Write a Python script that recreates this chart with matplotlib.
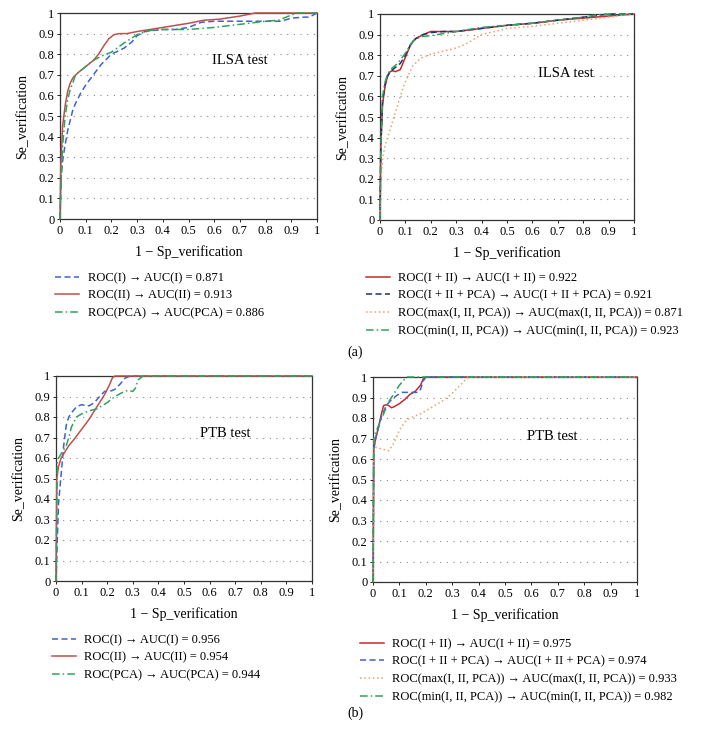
import numpy as np
import matplotlib
matplotlib.use('Agg')
import matplotlib.pyplot as plt

plt.rcParams['font.family'] = ['Liberation Serif', 'DejaVu Serif']

# (a) ILSA test, single classifiers
a1_I_x = [0, 0.005, 0.01, 0.02, 0.03, 0.04, 0.05, 0.06, 0.08, 0.10, 0.13, 0.16, 0.20, 0.25, 0.28, 0.30, 0.33, 0.36, 0.40, 0.45, 0.50, 0.55, 0.60, 0.70, 0.80, 0.86, 0.90, 0.95, 0.97, 1.0]
a1_I_y = [0, 0.22, 0.28, 0.36, 0.43, 0.48, 0.53, 0.56, 0.61, 0.65, 0.70, 0.75, 0.80, 0.83, 0.86, 0.89, 0.91, 0.915, 0.92, 0.92, 0.93, 0.955, 0.96, 0.96, 0.96, 0.96, 0.975, 0.98, 0.98, 1.0]
a1_II_x = [0, 0.003, 0.01, 0.02, 0.03, 0.04, 0.05, 0.07, 0.10, 0.13, 0.15, 0.17, 0.19, 0.21, 0.23, 0.26, 0.30, 0.35, 0.40, 0.50, 0.56, 0.62, 0.70, 0.76, 0.80, 1.0]
a1_II_y = [0, 0.25, 0.45, 0.55, 0.62, 0.66, 0.685, 0.71, 0.74, 0.77, 0.80, 0.84, 0.875, 0.895, 0.90, 0.90, 0.91, 0.92, 0.93, 0.95, 0.965, 0.97, 0.985, 1.0, 1.0, 1.0]
a1_PCA_x = [0, 0.005, 0.01, 0.02, 0.03, 0.04, 0.05, 0.06, 0.08, 0.10, 0.13, 0.16, 0.20, 0.25, 0.30, 0.35, 0.40, 0.50, 0.60, 0.70, 0.80, 0.85, 0.90, 0.92, 1.0]
a1_PCA_y = [0, 0.2, 0.35, 0.5, 0.58, 0.63, 0.66, 0.70, 0.72, 0.74, 0.77, 0.79, 0.81, 0.855, 0.895, 0.915, 0.92, 0.92, 0.93, 0.945, 0.96, 0.965, 0.99, 1.0, 1.0]

# (a) ILSA test, combinations
a2_sum_x = [0, 0.003, 0.01, 0.02, 0.03, 0.04, 0.05, 0.06, 0.08, 0.10, 0.12, 0.14, 0.17, 0.20, 0.25, 0.30, 0.40, 0.50, 0.60, 0.70, 0.80, 0.90, 1.0]
a2_sum_y = [0, 0.35, 0.56, 0.65, 0.70, 0.72, 0.725, 0.72, 0.73, 0.79, 0.85, 0.88, 0.90, 0.915, 0.915, 0.915, 0.93, 0.945, 0.955, 0.97, 0.98, 0.99, 1.0]
a2_all_x = [0, 0.003, 0.01, 0.02, 0.03, 0.04, 0.05, 0.06, 0.08, 0.10, 0.12, 0.14, 0.17, 0.20, 0.25, 0.30, 0.40, 0.50, 0.60, 0.70, 0.80, 0.90, 1.0]
a2_all_y = [0, 0.35, 0.58, 0.66, 0.70, 0.72, 0.73, 0.74, 0.76, 0.80, 0.85, 0.88, 0.90, 0.91, 0.915, 0.915, 0.93, 0.945, 0.955, 0.97, 0.985, 1.0, 1.0]
a2_max_x = [0, 0.005, 0.01, 0.02, 0.03, 0.05, 0.07, 0.09, 0.11, 0.13, 0.16, 0.20, 0.25, 0.30, 0.33, 0.36, 0.40, 0.45, 0.50, 0.60, 0.70, 0.80, 0.90, 1.0]
a2_max_y = [0, 0.2, 0.3, 0.36, 0.40, 0.48, 0.56, 0.64, 0.70, 0.75, 0.785, 0.805, 0.82, 0.835, 0.85, 0.87, 0.90, 0.915, 0.93, 0.94, 0.955, 0.97, 0.985, 1.0]
a2_min_x = [0, 0.003, 0.01, 0.02, 0.03, 0.05, 0.07, 0.10, 0.13, 0.16, 0.20, 0.25, 0.30, 0.40, 0.50, 0.60, 0.70, 0.80, 0.85, 0.90, 1.0]
a2_min_y = [0, 0.35, 0.6, 0.67, 0.71, 0.74, 0.76, 0.81, 0.87, 0.89, 0.895, 0.905, 0.915, 0.935, 0.945, 0.955, 0.97, 0.985, 0.995, 1.0, 1.0]

# (b) PTB test, single classifiers
b1_I_x = [0, 0.005, 0.01, 0.02, 0.03, 0.04, 0.05, 0.06, 0.08, 0.10, 0.12, 0.13, 0.15, 0.17, 0.19, 0.21, 0.23, 0.25, 0.27, 0.29, 1.0]
b1_I_y = [0, 0.2, 0.38, 0.52, 0.66, 0.76, 0.80, 0.82, 0.85, 0.86, 0.855, 0.855, 0.87, 0.90, 0.925, 0.925, 0.935, 0.96, 0.99, 1.0, 1.0]
b1_II_x = [0, 0.003, 0.01, 0.02, 0.03, 0.05, 0.07, 0.10, 0.13, 0.16, 0.19, 0.21, 0.22, 0.23, 0.25, 1.0]
b1_II_y = [0, 0.5, 0.56, 0.6, 0.62, 0.66, 0.69, 0.74, 0.79, 0.85, 0.91, 0.96, 0.99, 1.0, 1.0, 1.0]
b1_PCA_x = [0, 0.005, 0.01, 0.02, 0.04, 0.05, 0.06, 0.08, 0.10, 0.13, 0.16, 0.20, 0.23, 0.26, 0.28, 0.30, 0.31, 0.32, 0.34, 1.0]
b1_PCA_y = [0, 0.58, 0.6, 0.62, 0.66, 0.70, 0.75, 0.80, 0.815, 0.83, 0.84, 0.87, 0.90, 0.92, 0.93, 0.925, 0.94, 0.98, 1.0, 1.0]

# (b) PTB test, combinations
b2_sum_x = [0, 0.003, 0.01, 0.02, 0.03, 0.04, 0.05, 0.06, 0.07, 0.08, 0.10, 0.12, 0.14, 0.16, 0.18, 0.19, 0.20, 1.0]
b2_sum_y = [0, 0.65, 0.7, 0.75, 0.81, 0.86, 0.865, 0.86, 0.85, 0.855, 0.87, 0.89, 0.915, 0.93, 0.96, 0.99, 1.0, 1.0]
b2_all_x = [0, 0.003, 0.01, 0.02, 0.03, 0.05, 0.07, 0.09, 0.11, 0.13, 0.15, 0.17, 0.18, 0.19, 0.20, 0.22, 1.0]
b2_all_y = [0, 0.65, 0.7, 0.75, 0.80, 0.86, 0.89, 0.91, 0.925, 0.925, 0.925, 0.925, 0.94, 0.98, 1.0, 1.0, 1.0]
b2_max_x = [0, 0.003, 0.03, 0.06, 0.08, 0.10, 0.12, 0.14, 0.18, 0.22, 0.26, 0.30, 0.33, 0.36, 1.0]
b2_max_y = [0, 0.66, 0.65, 0.64, 0.68, 0.74, 0.78, 0.80, 0.82, 0.85, 0.88, 0.92, 0.96, 1.0, 1.0]
b2_min_x = [0, 0.003, 0.01, 0.02, 0.04, 0.06, 0.08, 0.10, 0.12, 0.13, 1.0]
b2_min_y = [0, 0.7, 0.73, 0.76, 0.82, 0.88, 0.92, 0.96, 0.99, 1.0, 1.0]

auc_a1 = [0.871, 0.913, 0.886]
auc_a2 = [0.922, 0.921, 0.871, 0.923]
auc_b1 = [0.956, 0.954, 0.944]
auc_b2 = [0.975, 0.974, 0.933, 0.982]

names_combo = ['I + II', 'I + II + PCA', 'max(I, II, PCA)', 'min(I, II, PCA)']

BLUE = '#3f62cf'
RED_L = '#c0504d'
RED_R = '#c62a2a'
GREEN = '#2fa35b'
NAVY = '#1f2d7a'
ORANGE = '#f0a070'
DASH = (0, (4, 2.2))
DASHDOT = (0, (5, 2, 1, 2))
DOT = (0, (1, 1.8))

W, H = 710, 729
fig = plt.figure(figsize=(W / 100, H / 100), dpi=100)


def px_axes(left, top, right, bottom):
    return fig.add_axes([left / W, 1 - bottom / H, (right - left) / W, (bottom - top) / H])


def curve(ax, x, y, color, ls, label):
    ax.plot(x, y, color=color, ls=ls, lw=1.1, label=label, clip_on=False, zorder=3)


def style(ax, note, nx, ny):
    ax.set_xlim(0, 1)
    ax.set_ylim(0, 1)
    ticks = np.round(np.arange(0, 1.01, 0.1), 1)
    ax.set_xticks(ticks)
    ax.set_yticks(ticks)
    ax.set_xticklabels([f'{t:g}' for t in ticks])
    ax.set_yticklabels([f'{t:g}' for t in ticks])
    ax.tick_params(labelsize=9, length=2, width=0.6, pad=2)
    for s in ax.spines.values():
        s.set_color('#333333')
        s.set_linewidth(0.9)
        s.set_zorder(2)
    ax.grid(axis='y', color='#888888', lw=0.8, ls=(0, (1, 5)))
    ax.set_axisbelow(True)
    ax.set_xlabel('1 − Sp_verification', fontsize=10, labelpad=6)
    ax.set_ylabel('Se_verification', fontsize=10, labelpad=7)
    ax.text(nx, ny, note, fontsize=10.5, ha='center', va='center')


def legend(ax, x_px, y_px):
    fig.legend(handles=ax.get_lines(), loc='upper left',
               bbox_to_anchor=(x_px / W, 1 - y_px / H), frameon=False,
               fontsize=9, handlelength=1.9, handletextpad=0.7,
               labelspacing=0.45, borderpad=0, borderaxespad=0)


# top left
ax1 = px_axes(60, 13, 317, 219)
curve(ax1, a1_I_x, a1_I_y, BLUE, DASH, f'ROC(I) → AUC(I) = {auc_a1[0]}')
curve(ax1, a1_II_x, a1_II_y, RED_L, '-', f'ROC(II) → AUC(II) = {auc_a1[1]}')
curve(ax1, a1_PCA_x, a1_PCA_y, GREEN, DASHDOT, f'ROC(PCA) → AUC(PCA) = {auc_a1[2]}')
style(ax1, 'ILSA test', 0.70, 0.77)

# top right
ax2 = px_axes(380, 14, 634, 220)
curve(ax2, a2_sum_x, a2_sum_y, RED_R, '-',
      f'ROC({names_combo[0]}) → AUC({names_combo[0]}) = {auc_a2[0]}')
curve(ax2, a2_all_x, a2_all_y, NAVY, DASH,
      f'ROC({names_combo[1]}) → AUC({names_combo[1]}) = {auc_a2[1]}')
curve(ax2, a2_max_x, a2_max_y, ORANGE, DOT,
      f'ROC({names_combo[2]}) → AUC({names_combo[2]}) = {auc_a2[2]}')
curve(ax2, a2_min_x, a2_min_y, GREEN, DASHDOT,
      f'ROC({names_combo[3]}) → AUC({names_combo[3]}) = {auc_a2[3]}')
style(ax2, 'ILSA test', 0.73, 0.71)

# bottom left
ax3 = px_axes(56, 376, 312, 581)
curve(ax3, b1_I_x, b1_I_y, BLUE, DASH, f'ROC(I) → AUC(I) = {auc_b1[0]}')
curve(ax3, b1_II_x, b1_II_y, RED_L, '-', f'ROC(II) → AUC(II) = {auc_b1[1]}')
curve(ax3, b1_PCA_x, b1_PCA_y, GREEN, DASHDOT, f'ROC(PCA) → AUC(PCA) = {auc_b1[2]}')
style(ax3, 'PTB test', 0.66, 0.72)

# bottom right
ax4 = px_axes(373, 377, 637, 582)
curve(ax4, b2_sum_x, b2_sum_y, RED_R, '-',
      f'ROC({names_combo[0]}) → AUC({names_combo[0]}) = {auc_b2[0]}')
curve(ax4, b2_all_x, b2_all_y, BLUE, DASH,
      f'ROC({names_combo[1]}) → AUC({names_combo[1]}) = {auc_b2[1]}')
curve(ax4, b2_max_x, b2_max_y, ORANGE, DOT,
      f'ROC({names_combo[2]}) → AUC({names_combo[2]}) = {auc_b2[2]}')
curve(ax4, b2_min_x, b2_min_y, GREEN, DASHDOT,
      f'ROC({names_combo[3]}) → AUC({names_combo[3]}) = {auc_b2[3]}')
style(ax4, 'PTB test', 0.68, 0.71)

legend(ax1, 55, 272)
legend(ax2, 366, 272)
legend(ax3, 52, 634)
legend(ax4, 360, 638)

fig.text(355 / W, 1 - 352 / H, '(a)', fontsize=10, ha='center', va='center')
fig.text(355 / W, 1 - 713 / H, '(b)', fontsize=10, ha='center', va='center')

fig.savefig('out.png', dpi=100)
